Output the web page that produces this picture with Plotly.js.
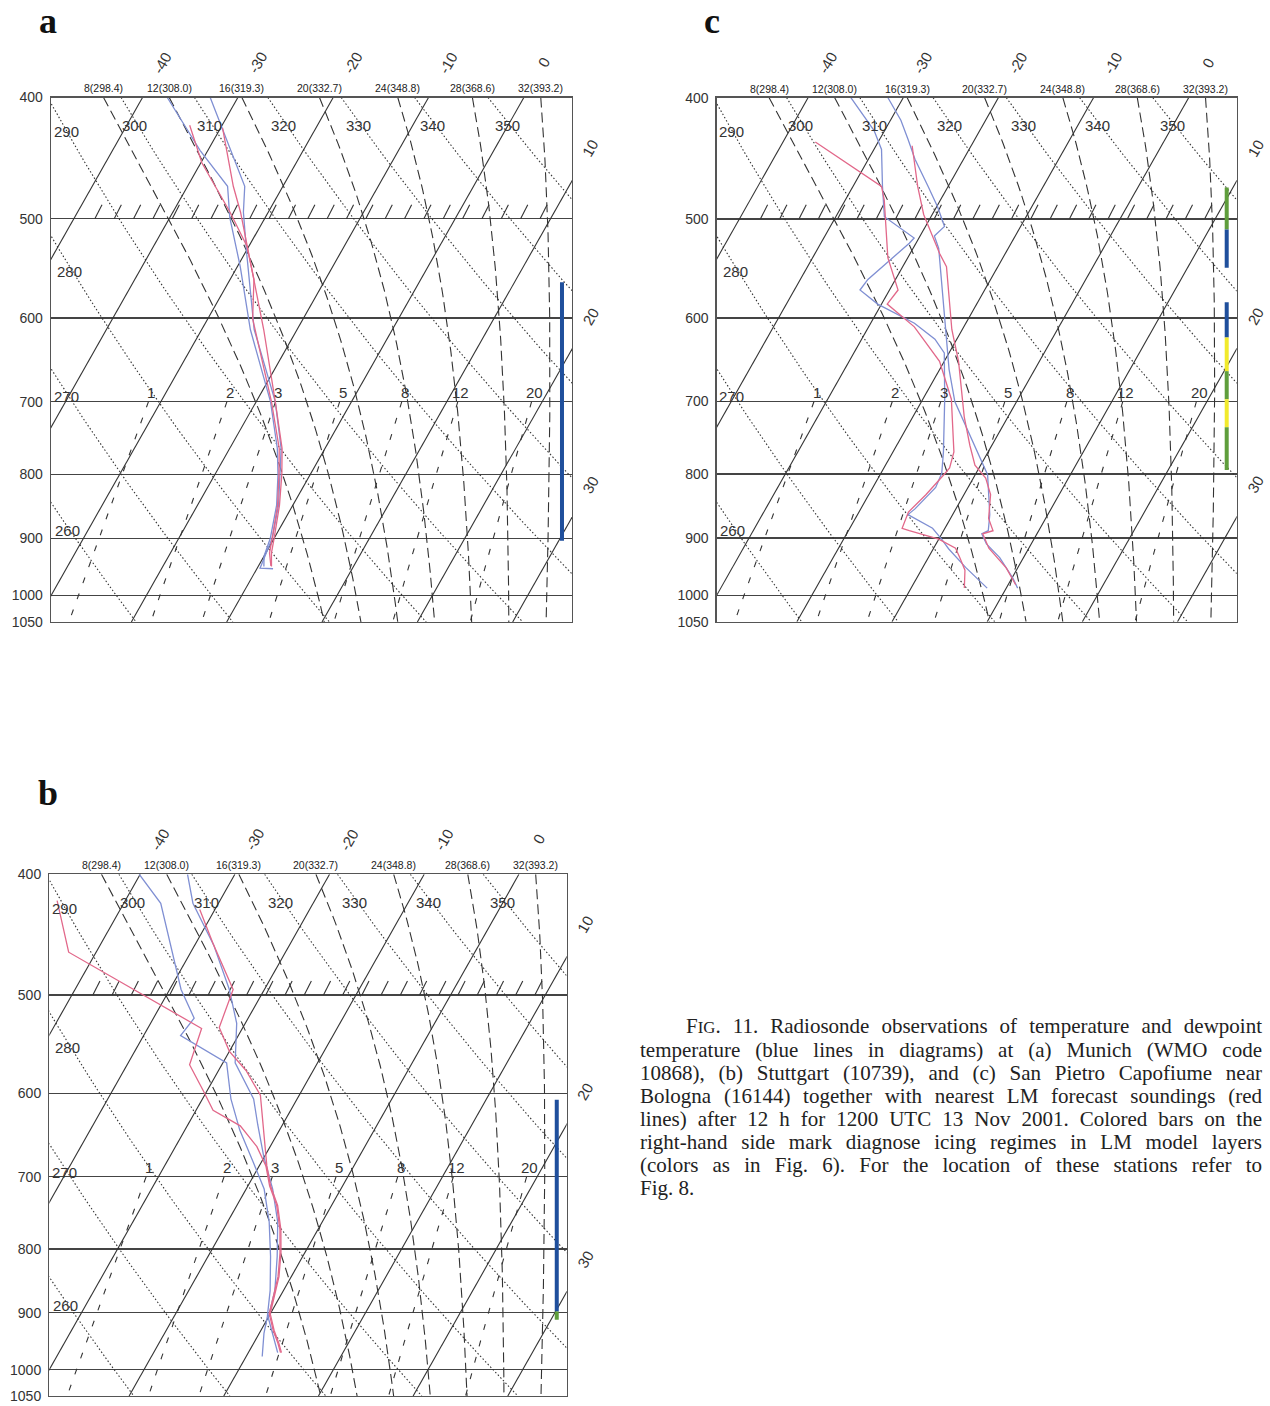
<!DOCTYPE html>
<html><head><meta charset="utf-8">
<script src="https://cdn.plot.ly/plotly-3.0.1.min.js"></script>
<style>
body{margin:0;background:#fff;}
#wrap{position:relative;width:1270px;height:1406px;overflow:hidden;}
#chart{position:absolute;left:0;top:0;width:1270px;height:1406px;}
#caption{position:absolute;left:640px;top:1015px;width:622px;font-family:"Liberation Serif","Times New Roman",serif;font-size:21px;line-height:23px;color:#222;}
#caption div{text-align:justify;text-align-last:justify;white-space:nowrap;}
#caption div.last{text-align-last:left;}
</style></head><body>
<div id="wrap"><div id="chart"></div>
<div id="caption">
<div style="text-indent:46px">F<span style="font-size:80%">IG</span>. 11. Radiosonde observations of temperature and dewpoint</div>
<div>temperature (blue lines in diagrams) at (a) Munich (WMO code</div>
<div>10868), (b) Stuttgart (10739), and (c) San Pietro Capofiume near</div>
<div>Bologna (16144) together with nearest LM forecast soundings (red</div>
<div>lines) after 12 h for 1200 UTC 13 Nov 2001. Colored bars on the</div>
<div>right-hand side mark diagnose icing regimes in LM model layers</div>
<div>(colors as in Fig. 6). For the location of these stations refer to</div>
<div class="last">Fig. 8.</div>
</div></div>
<script>
// ---------------- chart data ----------------
const pressureTicks = [400, 500, 600, 700, 800, 900, 1000, 1050];
const isotherms = [-40, -30, -20, -10, 0, 10, 20, 30];
const isothermTopLabels = [-40, -30, -20, -10, 0];
const isothermSideLabels = [10, 20, 30];
const dryAdiabats = [260, 270, 280, 290, 300, 310, 320, 330, 340, 350];
const moistThetaW = [8, 12, 16, 20, 24, 28, 32];
const moistLabels = ['8(298.4)', '12(308.0)', '16(319.3)', '20(332.7)', '24(348.8)', '28(368.6)', '32(393.2)'];
const mixRatios = [1, 2, 3, 5, 8, 12, 20];

// (a) Munich 10868
const a_obsT_p  = [400, 440, 471, 494, 533, 613, 700, 763, 800, 847, 900, 920, 937, 951, 952];
const a_obsT_t  = [-32.9, -27.7, -24.0, -22.6, -19.8, -14.5, -8.0, -4.6, -3.2, -1.5, -0.2, 0.0, 0.1, 0.3, 1.7];
const a_obsTd_p = [400, 441, 471, 499, 546, 613, 700, 763, 800, 847, 900, 930, 948];
const a_obsTd_t = [-37.4, -30.8, -25.8, -23.7, -19.7, -14.9, -8.5, -5.0, -3.4, -1.7, -0.4, 0.0, 0.6];
const a_fcT_p   = [423, 471, 494, 613, 700, 763, 800, 847, 900, 925, 948];
const a_fcT_t   = [-29.8, -25.2, -22.9, -13.5, -8.0, -4.5, -3.0, -1.4, 0.0, 0.6, 1.4];
const a_fcTd_p  = [421, 451, 494, 526, 559, 601, 700, 763, 800, 847, 900, 925, 947];
const a_fcTd_t  = [-33.4, -29.9, -24.0, -20.2, -17.5, -15.3, -8.4, -4.8, -3.3, -1.6, -0.2, 0.4, 1.3];
const a_barTop  = [562];
const a_barBot  = [904];
const a_barCol  = ['blue'];

// (b) Stuttgart 10739
const b_obsT_p  = [400, 422, 456, 495, 527, 567, 606, 636, 674, 716, 761, 811, 864, 908, 969];
const b_obsT_t  = [-35.0, -32.7, -28.0, -23.7, -20.9, -18.7, -14.6, -12.6, -10.1, -7.2, -4.7, -2.7, -0.9, 0.0, 3.1];
const b_obsTd_p = [400, 422, 495, 522, 539, 567, 606, 642, 682, 716, 761, 811, 864, 908, 935, 976];
const b_obsTd_t = [-40.1, -36.1, -28.8, -25.7, -26.1, -19.6, -17.0, -14.2, -10.8, -8.1, -5.6, -3.4, -1.4, -0.1, 0.5, 1.7];
const b_fcT_p   = [427, 456, 495, 531, 555, 575, 602, 642, 686, 712, 738, 772, 806, 842, 874, 902, 930, 953, 969];
const b_fcT_t   = [-31.6, -28.0, -23.3, -22.5, -20.0, -17.1, -14.1, -11.7, -9.2, -7.6, -5.7, -3.9, -2.5, -1.3, -0.6, 0.0, 1.4, 2.7, 3.5];
const b_fcTd_p  = [420, 462, 532, 569, 597, 619, 637, 662, 686, 712, 738, 772, 806, 842, 874, 902, 930, 953, 969];
const b_fcTd_t  = [-47.2, -42.9, -24.3, -23.4, -20.4, -18.2, -14.4, -11.4, -9.3, -7.7, -5.8, -4.0, -2.6, -1.4, -0.7, -0.1, 1.3, 2.6, 3.4];
const b_barTop  = [607, 898];
const b_barBot  = [898, 912];
const b_barCol  = ['blue', 'green'];

// (c) San Pietro Capofiume 16144
const c_obsT_p  = [400, 417, 432, 448, 471, 489, 507, 516, 528, 613, 660, 700, 750, 782, 801, 862, 888, 893, 910, 933, 969, 987];
const c_obsT_t  = [-31.6, -28.9, -27.0, -25.1, -22.1, -19.9, -18.0, -18.5, -17.3, -11.8, -9.0, -6.5, -2.5, -0.1, 1.3, 3.9, 4.7, 4.2, 5.3, 7.5, 10.1, 11.2];
const c_obsTd_p = [400, 425, 440, 471, 498, 513, 518, 523, 559, 570, 585, 606, 624, 640, 697, 768, 799, 820, 853, 862, 884, 902, 918, 950, 987];
const c_obsTd_t = [-35.5, -31.1, -29.2, -26.9, -24.9, -21.5, -20.5, -20.7, -22.9, -23.1, -20.4, -15.4, -12.3, -10.5, -7.7, -4.7, -3.6, -3.4, -4.3, -4.7, -1.3, 0.3, 1.6, 4.5, 8.0];
const c_fcT_p   = [437, 471, 496, 513, 533, 546, 572, 613, 650, 704, 720, 759, 787, 806, 831, 868, 888, 893, 917, 951, 981];
const c_fcT_t   = [-26.2, -23.2, -20.9, -19.0, -16.9, -15.4, -13.7, -11.1, -8.5, -5.5, -4.6, -2.3, -0.6, 1.3, 2.8, 4.0, 5.2, 4.3, 5.8, 8.8, 10.8];
const c_fcTd_p  = [434, 471, 483, 537, 570, 585, 610, 650, 697, 768, 791, 801, 831, 858, 884, 888, 902, 917, 933, 955, 987];
const c_fcTd_t  = [-36.6, -27.0, -25.9, -22.1, -19.1, -19.4, -15.2, -10.5, -7.0, -3.6, -3.1, -3.3, -4.0, -4.8, -4.5, -3.6, 0.0, 2.3, 3.3, 4.6, 5.6];
const c_barTop  = [472, 510, 583, 622, 662, 697, 734];
const c_barBot  = [510, 547, 622, 662, 697, 734, 794];
const c_barCol  = ['green', 'blue', 'blue', 'yellow', 'green', 'yellow', 'green'];

// ---------------- diagram geometry ----------------
const K = 32.3;            // skew (deg C per ln p)
const XL = -49.6, XR = 5.05;
const P_TOP = 400, P_BOT = 1050;
const PX_PER_LN = 543.5;
const BAR_X = 4.0;
const L_FACTOR = 0.971;    // latent-heat calibration of the printed pseudo-adiabats
const barColors = {blue: '#1f4f9c', green: '#5f9e3c', yellow: '#f1ea2c'};
const BLUE = '#7f8fd3', RED = '#e2688a';
const LINE = '#333';
const FONT = 'Liberation Sans, Arial, sans-serif';

function skewX(T, p) { return T - K * Math.log(p / P_TOP); }
function pressures(p0, p1, step) { const a = []; for (let p = p0; p <= p1 + 1e-9; p += step) a.push(p); if (a[a.length - 1] < p1) a.push(p1); return a; }

function es(t) { return 6.112 * Math.exp(17.67 * t / (t + 243.5)); }
function dTdp(p, t) {
  const Rd = 287.04, cp = 1005.7, L = 2.501e6 * L_FACTOR, eps = 0.622;
  const Tk = t + 273.15, e = es(t), rs = eps * e / (p - e);
  return (Rd * Tk + L * rs) / (p * (cp + L * L * rs * eps / (Rd * Tk * Tk)));
}
function rk4(p, t, h) {
  const k1 = dTdp(p, t), k2 = dTdp(p + h / 2, t + h / 2 * k1), k3 = dTdp(p + h / 2, t + h / 2 * k2), k4 = dTdp(p + h, t + h * k3);
  return t + h / 6 * (k1 + 2 * k2 + 2 * k3 + k4);
}
function moistCurve(thw) {
  const up = [[1000, thw]]; let p = 1000, t = thw;
  while (p > P_TOP) { const h = Math.max(-5, P_TOP - p); t = rk4(p, t, h); p += h; up.push([p, t]); }
  const down = []; p = 1000; t = thw;
  while (p < P_BOT) { t = rk4(p, t, 5); p += 5; down.push([p, t]); }
  return up.reverse().concat(down);
}
function dryT(theta, p) { return theta * Math.pow(p / 1000, 0.2857) - 273.15; }
function mixTd(w, p) { const e = w * p / (622 + w); const l = Math.log(e / 6.112); return 243.5 * l / (17.67 - l); }

const traces = [];
const annotations = [];
const layout = {
  width: 1270, height: 1406, margin: {l: 0, r: 0, t: 0, b: 0},
  paper_bgcolor: '#fff', plot_bgcolor: '#fff', showlegend: false,
  annotations: annotations
};

const panels = [
  {ax: '', letter: 'a', xd: [51 / 1270, 572 / 1270], yd: [1 - 622 / 1406, 1 - 97.5 / 1406], lx: 48, ly: 0, lanchor: 'top',
   s: [[a_obsTd_p, a_obsTd_t, BLUE], [a_obsT_p, a_obsT_t, BLUE], [a_fcTd_p, a_fcTd_t, RED], [a_fcT_p, a_fcT_t, RED]],
   bars: [a_barTop, a_barBot, a_barCol]},
  {ax: '2', letter: 'c', xd: [716.7 / 1270, 1236.7 / 1270], yd: [1 - 621.7 / 1406, 1 - 97.7 / 1406], lx: 712, ly: 0, lanchor: 'top',
   s: [[c_obsTd_p, c_obsTd_t, BLUE], [c_obsT_p, c_obsT_t, BLUE], [c_fcTd_p, c_fcTd_t, RED], [c_fcT_p, c_fcT_t, RED]],
   bars: [c_barTop, c_barBot, c_barCol]},
  {ax: '3', letter: 'b', xd: [49.3 / 1270, 566.7 / 1270], yd: [1 - 1396 / 1406, 1 - 874.3 / 1406], lx: 48, ly: 772, lanchor: 'top',
   s: [[b_obsTd_p, b_obsTd_t, BLUE], [b_obsT_p, b_obsT_t, BLUE], [b_fcTd_p, b_fcTd_t, RED], [b_fcT_p, b_fcT_t, RED]],
   bars: [b_barTop, b_barBot, b_barCol]}
];

const LP0 = Math.log10(P_BOT), LP1 = Math.log10(P_TOP);

panels.forEach(P => {
  const xa = 'x' + P.ax, ya = 'y' + P.ax;
  const base = {xaxis: xa, yaxis: ya, mode: 'lines', hoverinfo: 'skip', type: 'scatter'};
  const toPx = X => P.xd[0] + (X - XL) / (XR - XL) * (P.xd[1] - P.xd[0]);
  const toPy = p => P.yd[0] + (LP0 - Math.log10(p)) / (LP0 - LP1) * (P.yd[1] - P.yd[0]);

  // isotherms
  let X = [], Y = [];
  isotherms.forEach(T => { X.push(skewX(T, P_TOP), skewX(T, P_BOT), null); Y.push(P_TOP, P_BOT, null); });
  traces.push(Object.assign({}, base, {x: X, y: Y, line: {color: LINE, width: 1.1}}));
  // dry adiabats
  X = []; Y = [];
  dryAdiabats.forEach(th => { pressures(P_TOP, P_BOT, 10).forEach(p => { X.push(skewX(dryT(th, p), p)); Y.push(p); }); X.push(null); Y.push(null); });
  traces.push(Object.assign({}, base, {x: X, y: Y, line: {color: LINE, width: 1.1, dash: '1.5px,2.2px'}}));
  // moist adiabats
  X = []; Y = [];
  const moistTop = [];
  moistThetaW.forEach(thw => { const c = moistCurve(thw); c.forEach(([p, t]) => { X.push(skewX(t, p)); Y.push(p); }); X.push(null); Y.push(null); moistTop.push(skewX(c[0][1], c[0][0])); });
  traces.push(Object.assign({}, base, {x: X, y: Y, line: {color: LINE, width: 1.1, dash: '10px,5px'}}));
  // mixing ratio lines
  X = []; Y = [];
  mixRatios.forEach(w => { pressures(700, P_BOT, 25).forEach(p => { X.push(skewX(mixTd(w, p), p)); Y.push(p); }); X.push(null); Y.push(null); });
  traces.push(Object.assign({}, base, {x: X, y: Y, line: {color: LINE, width: 1.1, dash: '6px,11px'}}));
  // hatching along 500 hPa
  X = []; Y = [];
  const pH = 500 * Math.exp(-14 / PX_PER_LN);
  for (let i = 0; i < 24; i++) { const x0 = -45.0 + i * 2.03; X.push(x0, x0 + 0.75, null); Y.push(500, pH, null); }
  traces.push(Object.assign({}, base, {x: X, y: Y, line: {color: LINE, width: 1.1}}));
  // soundings
  P.s.forEach(([ps, ts, col]) => {
    traces.push(Object.assign({}, base, {x: ps.map((p, i) => skewX(ts[i], p)), y: ps, line: {color: col, width: 1.3}}));
  });
  // icing bars
  const [bt, bb, bc] = P.bars;
  bt.forEach((pt, i) => {
    traces.push(Object.assign({}, base, {x: [BAR_X, BAR_X], y: [pt, bb[i]], line: {color: barColors[bc[i]], width: 4}}));
  });

  layout['xaxis' + P.ax] = {domain: P.xd, range: [XL, XR], anchor: ya, showgrid: false, zeroline: false, showticklabels: false,
    ticks: '', showline: true, mirror: true, linecolor: '#555', linewidth: 1.3, fixedrange: true};
  layout['yaxis' + P.ax] = {domain: P.yd, type: 'log', range: [LP0, LP1], anchor: xa,
    tickvals: pressureTicks, ticktext: pressureTicks.map(String), tickfont: {family: FONT, size: 14, color: '#333'},
    showgrid: true, gridcolor: '#444', gridwidth: 1.3, zeroline: false, ticks: '', ticklabelstandoff: 4,
    showline: true, mirror: true, linecolor: '#555', linewidth: 1.3, fixedrange: true};

  const A = (o) => annotations.push(Object.assign({xref: xa, yref: ya, showarrow: false, font: {family: FONT, size: 15, color: '#333'}}, o));
  const AP = (o) => annotations.push(Object.assign({xref: 'paper', yref: 'paper', showarrow: false, xanchor: 'center', yanchor: 'middle', font: {family: FONT, size: 15, color: '#333'}}, o));
  // isotherm labels (outside the plotting area -> paper coordinates)
  const pLab = P_TOP * Math.exp(-35 / PX_PER_LN);
  isothermTopLabels.forEach(T => AP({x: toPx(skewX(T, pLab)), y: toPy(pLab), text: String(T), textangle: -60}));
  isothermSideLabels.forEach(T => { const p = P_TOP * Math.exp((T - 7.0) / K); AP({x: toPx(7.0), y: toPy(p), text: String(T), textangle: -60}); });
  // dry adiabat labels
  dryAdiabats.forEach(th => {
    let pe = P_TOP;
    if (skewX(dryT(th, P_TOP), P_TOP) < XL) {
      let lo = P_TOP, hi = P_BOT;
      for (let k = 0; k < 40; k++) { const m = (lo + hi) / 2; if (skewX(dryT(th, m), m) < XL) lo = m; else hi = m; }
      pe = hi;
    }
    const pl = pe * Math.exp((th === 280 ? 36 : 28) / PX_PER_LN);
    A({x: Math.max(skewX(dryT(th, pl), pl), XL + 1.9), y: Math.log10(pl), text: String(th), xshift: -3});
  });
  // moist adiabat labels
  moistThetaW.forEach((thw, i) => A({x: moistTop[i], y: LP1, text: moistLabels[i], yanchor: 'bottom', yshift: 1, font: {family: FONT, size: 10.5, color: '#222'}}));
  // mixing ratio labels
  mixRatios.forEach(w => A({x: skewX(mixTd(w, 700), 700) + 0.3, y: Math.log10(700), text: String(w), yanchor: 'bottom', yshift: -1}));
  // panel letter
  annotations.push({xref: 'paper', yref: 'paper', x: P.lx / 1270, y: 1 - P.ly / 1406, xanchor: 'center', yanchor: P.lanchor, text: P.letter, showarrow: false,
    borderpad: 0, font: {family: 'Liberation Serif, DejaVu Serif, serif', size: 36, color: '#111', weight: 'bold'}});
});

Plotly.newPlot('chart', traces, layout, {staticPlot: true, displayModeBar: false});
</script>
</body></html>
